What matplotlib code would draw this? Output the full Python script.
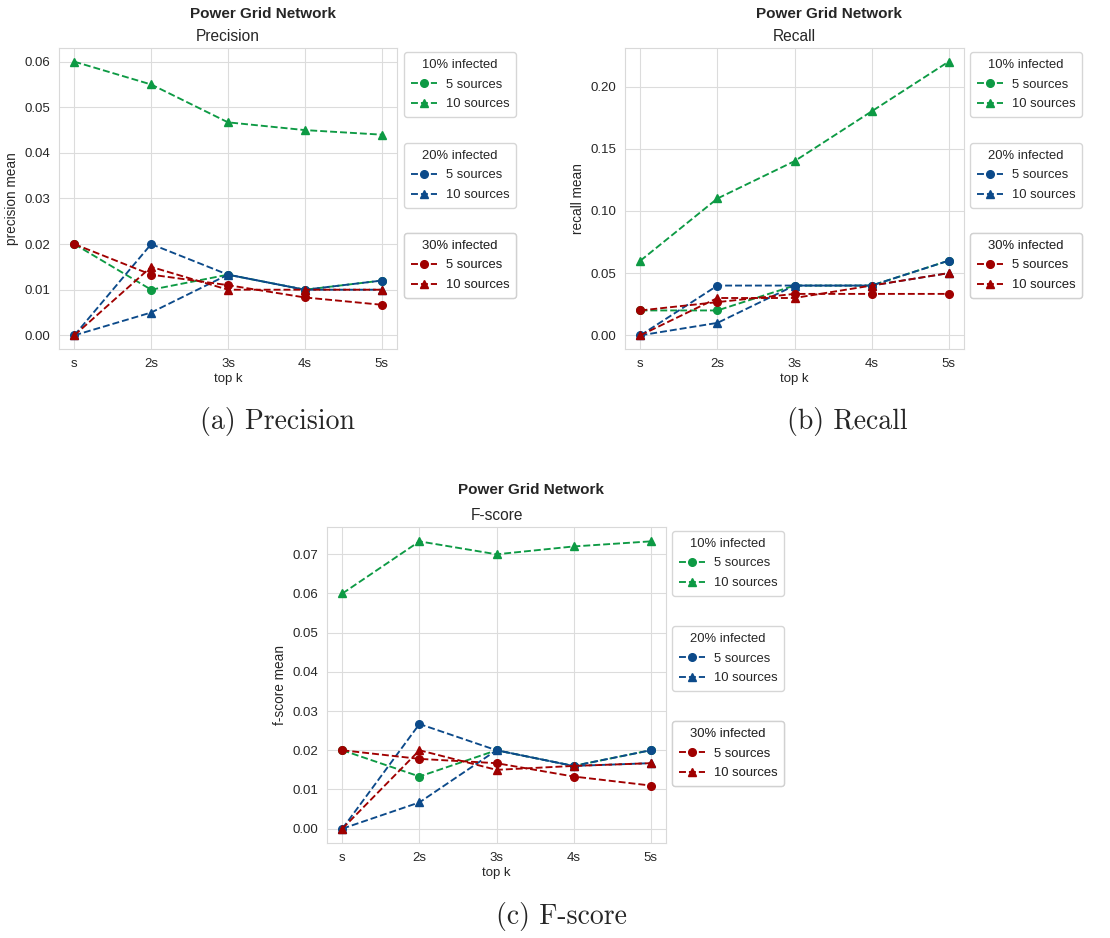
import matplotlib
matplotlib.use("Agg")
import matplotlib.pyplot as plt
import seaborn as sns
from matplotlib.lines import Line2D

topk = ["s", "2s", "3s", "4s", "5s"]
groups = ["10% infected", "20% infected", "30% infected"]
sources = ["5 sources", "10 sources"]

precision_10_5 = [0.02, 0.01, 0.0133, 0.01, 0.012]
precision_10_10 = [0.06, 0.055, 0.0467, 0.045, 0.044]
precision_20_5 = [0.0, 0.02, 0.0133, 0.01, 0.012]
precision_20_10 = [0.0, 0.005, 0.0133, 0.01, 0.01]
precision_30_5 = [0.02, 0.0133, 0.011, 0.0083, 0.0067]
precision_30_10 = [0.0, 0.015, 0.01, 0.01, 0.01]

recall_10_5 = [0.02, 0.02, 0.04, 0.04, 0.06]
recall_10_10 = [0.06, 0.11, 0.14, 0.18, 0.22]
recall_20_5 = [0.0, 0.04, 0.04, 0.04, 0.06]
recall_20_10 = [0.0, 0.01, 0.04, 0.04, 0.05]
recall_30_5 = [0.02, 0.0267, 0.0333, 0.0333, 0.0333]
recall_30_10 = [0.0, 0.03, 0.03, 0.04, 0.05]

fscore_10_5 = [0.02, 0.0133, 0.02, 0.016, 0.02]
fscore_10_10 = [0.06, 0.0733, 0.07, 0.072, 0.0733]
fscore_20_5 = [0.0, 0.0267, 0.02, 0.016, 0.02]
fscore_20_10 = [0.0, 0.0067, 0.02, 0.016, 0.0167]
fscore_30_5 = [0.02, 0.0178, 0.0167, 0.0133, 0.011]
fscore_30_10 = [0.0, 0.02, 0.015, 0.016, 0.0167]

colors = ["#0d9a44", "#0c4a8a", "#a00000"]
markers = ["o", "^"]

sns.set_style("whitegrid")
plt.rcParams["font.family"] = ["Liberation Sans", "DejaVu Sans"]
plt.rcParams["axes.edgecolor"] = "#d9d9d9"
plt.rcParams["grid.color"] = "#dcdcdc"

W, H = 1110, 938
fig = plt.figure(figsize=(W / 100, H / 100), dpi=100)


def px_axes(x0, y0, x1, y1):
    return fig.add_axes([x0 / W, (H - y1) / H, (x1 - x0) / W, (y1 - y0) / H])


def draw_panel(box, series, title, ylabel, legend_x, legend_tops, sup_xy, caption, cap_xy):
    ax = px_axes(*box)
    for gi in range(3):
        for si in range(2):
            ax.plot(topk, series[gi][si], linestyle="--", marker=markers[si],
                    color=colors[gi], linewidth=1.35, markersize=5.5)
    ax.set_title(title, fontsize=11.2, pad=5)
    ax.set_ylabel(ylabel, fontsize=9.8, labelpad=4)
    ax.set_xlabel("top k", fontsize=9.5, labelpad=2)
    ax.tick_params(labelsize=9.5, pad=3)
    for gi in range(3):
        handles = [Line2D([], [], linestyle="--", marker=markers[si], color=colors[gi],
                          linewidth=1.35, markersize=5.5) for si in range(2)]
        leg = ax.legend(handles, sources, title=groups[gi], loc="upper left",
                        bbox_to_anchor=(legend_x / W, 1 - legend_tops[gi] / H),
                        bbox_transform=fig.transFigure, fontsize=9.4, title_fontsize=9.4,
                        borderaxespad=0, frameon=True, labelspacing=0.6, borderpad=0.5,
                        handletextpad=0.7)
        ax.add_artist(leg)
    fig.text(sup_xy[0] / W, 1 - sup_xy[1] / H, "Power Grid Network", fontsize=11,
             fontweight="bold", ha="center", va="center", color="#262626")
    fig.text(cap_xy[0] / W, 1 - cap_xy[1] / H, caption, family="cmr10", fontsize=20,
             ha="center", va="center")
    return ax


draw_panel((59, 48, 397, 349),
           [[precision_10_5, precision_10_10], [precision_20_5, precision_20_10],
            [precision_30_5, precision_30_10]],
           "Precision", "precision mean", 404, [52, 143, 233], (263, 14),
           "(a) Precision", (277, 421))
draw_panel((625, 48, 964, 349),
           [[recall_10_5, recall_10_10], [recall_20_5, recall_20_10],
            [recall_30_5, recall_30_10]],
           "Recall", "recall mean", 970, [52, 143, 233], (829, 14),
           "(b) Recall", (847, 421))
draw_panel((327, 527, 666, 843),
           [[fscore_10_5, fscore_10_10], [fscore_20_5, fscore_20_10],
            [fscore_30_5, fscore_30_10]],
           "F-score", "f-score mean", 672, [531, 626, 721], (531, 490),
           "(c) F-score", (561, 916))

fig.savefig("out.png", dpi=100)
